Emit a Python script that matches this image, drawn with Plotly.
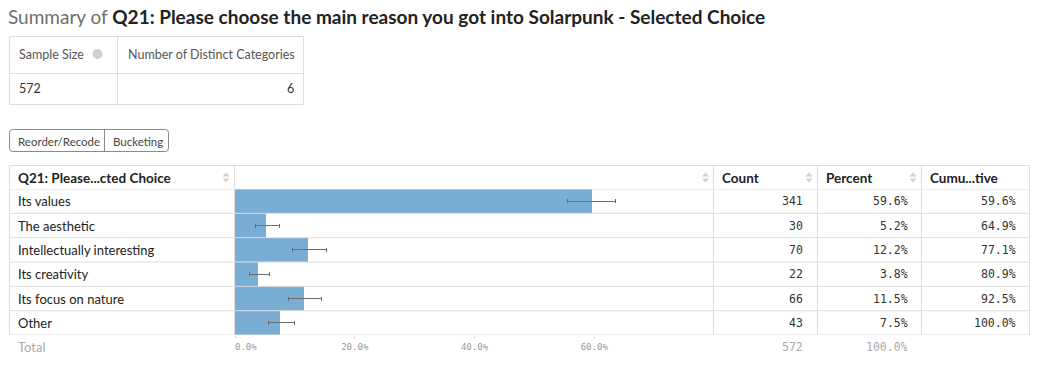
import plotly.graph_objects as go

W, H = 1038, 385
OFF = 8  # page body margin in the screenshot

# ---------------- data ----------------
categories = ["Its values", "The aesthetic", "Intellectually interesting",
              "Its creativity", "Its focus on nature", "Other"]
counts = [341, 30, 70, 22, 66, 43]
percents = [59.6, 5.2, 12.2, 3.8, 11.5, 7.5]
cumulative = [59.6, 64.9, 77.1, 80.9, 92.5, 100.0]
ci_low = [55.5, 3.5, 9.6, 2.4, 9.0, 5.6]
ci_high = [63.5, 7.4, 15.2, 5.7, 14.4, 9.9]
axis_tickvals = [0, 20, 40, 60]
axis_ticktext = ["0.0%", "20.0%", "40.0%", "60.0%"]
col_headers = ["Q21: Please...cted Choice", "", "Count", "Percent", "Cumu...tive"]
sample_size = 572
distinct_categories = 6
total_count = 572
total_percent = 100.0
title_prefix = "Summary of "
title_main = "Q21: Please choose the main reason you got into Solarpunk - Selected Choice"
buttons = ["Reorder/Recode", "Bucketing"]

# ---------------- style ----------------
SANS = "Lato, 'Noto Sans', sans-serif"
MONO = "'DejaVu Sans Mono', monospace"
BAR = "#7aadd4"
GRID = "#dedede"
TXT = "#222222"
GRAY = "#9a9a9a"


def px(x):
    return (x - OFF) / W


def py(y):
    return 1 - (y - OFF) / H


col_edges = [9.5, 234.5, 713.5, 817.5, 921.5, 1029.5]
head_top, body_top, body_bot = 165.5, 189, 335

fig = go.Figure()
fig.add_trace(go.Bar(
    x=percents, y=categories, orientation="h",
    marker=dict(color=BAR, line=dict(width=0)),
    error_x=dict(type="data", symmetric=False,
                 array=[h - p for h, p in zip(ci_high, percents)],
                 arrayminus=[p - l for p, l in zip(percents, ci_low)],
                 color="#6a6a6a", thickness=1, width=2),
    hoverinfo="skip", showlegend=False,
))

shapes = []
annotations = []


def line(x0, y0, x1, y1, color=GRID, xref="paper", yref="paper", width=1):
    shapes.append(dict(type="line", x0=x0, y0=y0, x1=x1, y1=y1, xref=xref, yref=yref,
                       line=dict(color=color, width=width), layer="above"))


def text(s, x, y, size=13, color=TXT, family=SANS, anchor="left", yref="paper"):
    annotations.append(dict(text=s, x=x, y=y, xref="paper", yref=yref, xanchor=anchor,
                            yanchor="middle", showarrow=False, borderpad=0,
                            font=dict(size=size, color=color, family=family)))


# title
text(f"<span style='color:#6e6e6e'>{title_prefix}</span><b>{title_main}</b>",
     px(7), py(16), size=19)

# summary table
shapes.append(dict(type="rect", x0=px(9.5), x1=px(303.5), y0=py(36.5), y1=py(104.5),
                   xref="paper", yref="paper", line=dict(color=GRID, width=1)))
line(px(9.5), py(73.5), px(303.5), py(73.5))
line(px(117.5), py(36.5), px(117.5), py(104.5))
text("Sample Size", px(18), py(54), size=12.5, color="#555")
shapes.append(dict(type="circle", x0=px(92.5), x1=px(102.5), y0=py(49), y1=py(59),
                   xref="paper", yref="paper", fillcolor="#cfcfcf", line=dict(width=0)))
text("Number of Distinct Categories", px(127), py(54), size=12.5, color="#555")
text(str(sample_size), px(18), py(89), size=12.5, color="#333")
text(str(distinct_categories), px(295), py(89), size=12.5, color="#333", anchor="right")

# buttons
bx0, bx1, by0, by1, r = 9.5, 168.5, 129.5, 151.5, 3
path = (f"M{px(bx0 + r)},{py(by0)} L{px(bx1 - r)},{py(by0)} Q{px(bx1)},{py(by0)} {px(bx1)},{py(by0 + r)} "
        f"L{px(bx1)},{py(by1 - r)} Q{px(bx1)},{py(by1)} {px(bx1 - r)},{py(by1)} "
        f"L{px(bx0 + r)},{py(by1)} Q{px(bx0)},{py(by1)} {px(bx0)},{py(by1 - r)} "
        f"L{px(bx0)},{py(by0 + r)} Q{px(bx0)},{py(by0)} {px(bx0 + r)},{py(by0)} Z")
shapes.append(dict(type="path", path=path, xref="paper", yref="paper",
                   line=dict(color="#8a8a8a", width=1)))
line(px(104.5), py(129.5), px(104.5), py(151.5), color="#8a8a8a")
text(buttons[0], px(16.5), py(141), size=11.5, color="#444")
text(buttons[1], px(111.5), py(141), size=11.5, color="#444")

# main table grid
line(px(col_edges[0]), py(head_top), px(col_edges[-1]), py(head_top))
for i in range(-1, len(categories)):
    line(px(col_edges[0]), i + 0.5, px(col_edges[-1]), i + 0.5, yref="y")
for xe in col_edges:
    line(px(xe), py(head_top), px(xe), py(body_bot))

# header labels
for i, h in enumerate(col_headers):
    if h:
        text(f"<b>{h}</b>", px(col_edges[i] + 7), py(177.5), size=13.5, color=TXT)

# sort icons
for xs in [226, 705.5, 809, 913]:
    yc = 177.5
    shapes.append(dict(type="path", xref="paper", yref="paper", fillcolor="#d0d0d0",
                       line=dict(width=0),
                       path=f"M{px(xs - 3.5)},{py(yc - 1)} L{px(xs + 3.5)},{py(yc - 1)} L{px(xs)},{py(yc - 5)} Z"))
    shapes.append(dict(type="path", xref="paper", yref="paper", fillcolor="#d0d0d0",
                       line=dict(width=0),
                       path=f"M{px(xs - 3.5)},{py(yc + 1)} L{px(xs + 3.5)},{py(yc + 1)} L{px(xs)},{py(yc + 5)} Z"))

# row contents
for cat, c, p, cu in zip(categories, counts, percents, cumulative):
    text(cat, px(16.5), cat, size=13, color=TXT, yref="y")
    text(str(c), px(803.5), cat, size=11.5, color="#333", family=MONO, anchor="right", yref="y")
    text(f"{p:.1f}%", px(908.5), cat, size=11.5, color="#333", family=MONO, anchor="right", yref="y")
    text(f"{cu:.1f}%", px(1016.5), cat, size=11.5, color="#333", family=MONO, anchor="right", yref="y")

# total row
text("Total", px(16.5), py(347), size=13, color="#aaa")
text(str(total_count), px(803.5), py(347), size=11.5, color="#aaa", family=MONO, anchor="right")
text(f"{total_percent:.1f}%", px(908.5), py(347), size=11.5, color="#aaa", family=MONO, anchor="right")

fig.update_layout(
    template="none",
    width=W, height=H, margin=dict(l=0, r=0, t=0, b=0, autoexpand=False),
    paper_bgcolor="white", plot_bgcolor="rgba(0,0,0,0)",
    bargap=0, showlegend=False,
    xaxis=dict(domain=[px(235), px(714)], range=[0, 80], showgrid=False, zeroline=False,
               showline=False, automargin=False, tickvals=axis_tickvals,
               ticktext=["\u00a0\u00a0\u00a0\u00a0" + axis_ticktext[0]] + axis_ticktext[1:],
               ticks="outside", ticklen=3, tickcolor=GRID,
               tickfont=dict(family=MONO, size=9, color=GRAY), fixedrange=True),
    yaxis=dict(domain=[py(body_bot), py(body_top)], type="category", categoryarray=categories,
               range=[len(categories) - 0.5, -0.5], showticklabels=False, showgrid=False,
               zeroline=False, showline=False, automargin=False, ticks="", fixedrange=True),
    shapes=shapes, annotations=annotations,
)

fig.write_html("out.html")
